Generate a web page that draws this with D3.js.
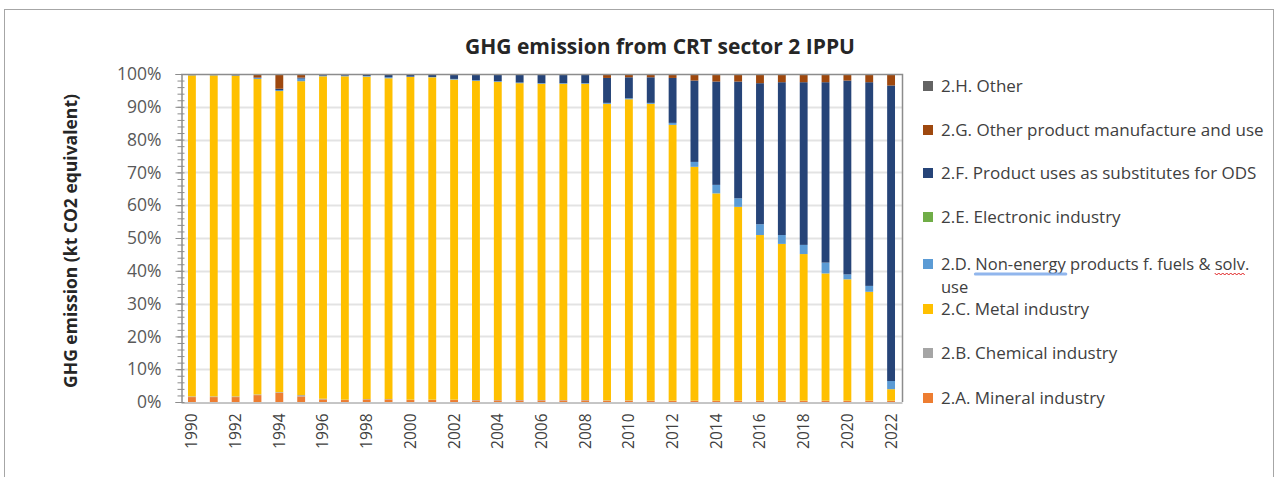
<!DOCTYPE html>
<html>
<head>
<script src="https://d3js.org/d3.v7.min.js"></script>
<style>
  body { margin: 0; background: #fff; }
  text { font-family: "Open Sans", Lato, sans-serif; }
</style>
</head>
<body>
<script>
var w = 1283, h = 477

var years = d3.range(1990, 2023)
// shares in % of total IPPU emission
var mineral      = [1.5,1.5,1.5,2.1,2.8,1.7,0.8,0.6,0.8,0.8,0.6,0.6,0.6,0.5,0.5,0.5,0.5,0.5,0.5,0.4,0.4,0.3,0.3,0.3,0.3,0.3,0.3,0.3,0.3,0.3,0.3,0.3,0.3]
var chemical     = [0.2,0.2,0.2,0.2,0.2,0.4,0.2,0.1,0.1,0.1,0.1,0.1,0.1,0.1,0.1,0.1,0.1,0.1,0.1,0.1,0.1,0.1,0.1,0.1,0.1,0.1,0.1,0.1,0.1,0.1,0.1,0.1,0.1]
var metal        = [97.9,97.9,97.8,96.2,91.8,95.7,98.3,98.6,98.3,97.8,98.4,98.3,97.6,97.3,97.0,96.6,96.4,96.4,96.4,90.4,91.8,90.5,84.1,71.3,63.2,59.1,50.5,47.8,44.7,38.8,37.0,33.2,3.5]
var nonEnergy    = [0.1,0.1,0.1,0.3,0.3,0.8,0.2,0.2,0.2,0.3,0.1,0.1,0.2,0.2,0.2,0.2,0.2,0.2,0.2,0.3,0.3,0.3,0.6,1.5,2.6,2.6,3.3,2.7,2.8,3.3,1.5,1.8,2.5]
var electronic   = [0,0,0,0,0,0,0,0,0,0,0,0,0,0,0,0,0,0,0,0,0,0,0,0,0,0,0,0,0,0,0,0,0]
var odsSubst     = [0,0,0.1,0.1,0.4,0.3,0.2,0.3,0.4,0.7,0.5,0.6,1.2,1.6,1.9,2.3,2.5,2.5,2.5,7.6,6.4,7.8,13.7,24.8,31.5,35.6,43.0,46.6,49.6,55.0,59.1,62.1,90.1]
var otherProduct = [0.3,0.3,0.3,1.1,4.5,1.1,0.3,0.2,0.2,0.3,0.3,0.3,0.3,0.3,0.3,0.3,0.3,0.3,0.3,1.2,1.0,1.0,1.2,2.0,2.3,2.3,2.8,2.5,2.5,2.5,2.0,2.5,3.5]
var other        = [0,0,0,0,0,0,0,0,0,0,0,0,0,0,0,0,0,0,0,0,0,0,0,0,0,0,0,0,0,0,0,0,0]

var keys = ['A','B','C','D','E','F','G','H']
var labels = {
  A: '2.A. Mineral industry',
  B: '2.B. Chemical industry',
  C: '2.C. Metal industry',
  D: '2.D. Non-energy products f. fuels & solv.',
  E: '2.E. Electronic industry',
  F: '2.F. Product uses as substitutes for ODS',
  G: '2.G. Other product manufacture and use',
  H: '2.H. Other'
}
var colors = {A:'#ED7D31', B:'#A5A5A5', C:'#FFC000', D:'#5B9BD5', E:'#70AD47', F:'#264478', G:'#9E480E', H:'#636363'}
var seriesVals = {A:mineral, B:chemical, C:metal, D:nonEnergy, E:electronic, F:odsSubst, G:otherProduct, H:other}

var table = years.map(function(y, i){
  var row = {year: y}
  keys.forEach(function(k){ row[k] = seriesVals[k][i] })
  return row
})

var stacked = d3.stack().keys(keys).offset(d3.stackOffsetExpand)(table)

var pLeft = 181, pRight = 902, pTop = 74, pBottom = 402

var x = d3.scaleBand().domain(years).range([pLeft, pRight]).paddingInner(0.64).paddingOuter(0.32)
var y = d3.scaleLinear().domain([0, 1]).range([pBottom, pTop])

var svg = d3.select('body').append('svg').attr('width', w).attr('height', h)

// outer chart frame
svg.append('rect').attr('x', 4.5).attr('y', 9.5).attr('width', 1269).attr('height', 480)
  .attr('fill', '#fff').attr('stroke', '#a6a6a6').attr('stroke-width', 1)

// gridlines
svg.append('g').selectAll('line').data(d3.range(1, 10)).join('line')
  .attr('x1', pLeft).attr('x2', pRight)
  .attr('y1', function(d){ return Math.round(y(d / 10)) + 0.5 })
  .attr('y2', function(d){ return Math.round(y(d / 10)) + 0.5 })
  .attr('stroke', '#e3e3e3').attr('stroke-width', 2)

// bars
svg.append('g').selectAll('g').data(stacked).join('g')
  .attr('fill', function(d){ return colors[d.key] })
  .selectAll('rect').data(function(d){ return d }).join('rect')
  .attr('x', function(d){ return x(d.data.year) })
  .attr('width', x.bandwidth())
  .attr('y', function(d){ return y(d[1]) })
  .attr('height', function(d){ return y(d[0]) - y(d[1]) })

// plot border (top / right)
svg.append('path').attr('d', 'M' + pLeft + ',' + (pTop + 0.5) + 'H' + (pRight + 0.5) + 'V' + pBottom)
  .attr('fill', 'none').attr('stroke', '#8c8c8c').attr('stroke-width', 1.5)

// y axis with minor ticks
var yMinor = svg.append('g').attr('transform', 'translate(' + (pLeft + 0.5) + ',0)')
  .call(d3.axisLeft(y).tickValues(d3.range(0, 51).map(function(i){ return i / 50 })).tickSize(5).tickFormat(''))
var yAxis = svg.append('g').attr('transform', 'translate(' + (pLeft + 0.5) + ',0)')
  .call(d3.axisLeft(y).tickValues(d3.range(0, 11).map(function(i){ return i / 10 })).tickSize(6).tickFormat(d3.format('.0%')))
;[yMinor, yAxis].forEach(function(g){
  g.select('.domain').attr('stroke', '#8c8c8c')
  g.selectAll('.tick line').attr('stroke', '#8c8c8c')
})
yMinor.selectAll('.tick line').attr('x2', 3).attr('x1', -4)
yAxis.selectAll('.tick text').attr('x', -20).attr('fill', '#595959').style('font-size', '17.5px')

// x axis
var xAxis = svg.append('g').attr('transform', 'translate(0,' + (pBottom + 0.5) + ')')
  .call(d3.axisBottom(x).tickValues(years.filter(function(d){ return d % 2 === 0 })).tickSize(0))
xAxis.select('.domain').attr('stroke', '#8c8c8c')
xAxis.selectAll('.tick text')
  .attr('transform', 'rotate(-90)').attr('x', -11).attr('y', 0).attr('dy', '0.35em')
  .attr('text-anchor', 'end').attr('fill', '#404040').style('font-size', '15.5px')

// title
svg.append('text').attr('x', 660).attr('y', 54).attr('text-anchor', 'middle')
  .style('font-size', '21px').style('font-weight', 'bold').attr('fill', '#262626')
  .text('GHG emission from CRT sector 2 IPPU')

// y label
svg.append('text').attr('transform', 'translate(77,241) rotate(-90)').attr('text-anchor', 'middle')
  .style('font-size', '17.5px').style('font-weight', 'bold').attr('fill', '#262626')
  .text('GHG emission (kt CO2 equivalent)')

// legend
var legendKeys = ['H','G','F','E','D','C','B','A']
var legendY = {H:86, G:130, F:173, E:217, D:264, C:309, B:353, A:398}
var legend = svg.append('g').selectAll('g').data(legendKeys).join('g')
  .attr('transform', function(k){ return 'translate(923,' + legendY[k] + ')' })
legend.append('rect').attr('x', 0).attr('y', -5).attr('width', 10).attr('height', 10)
  .attr('fill', function(k){ return colors[k] })
legend.append('text').attr('x', 18).attr('y', 0).attr('dy', '0.35em')
  .style('font-size', function(k){ return k === 'D' ? '16.5px' : '17px' }).attr('fill', '#404040')
  .text(function(k){ return labels[k] })

var dG = legend.filter(function(k){ return k === 'D' })
var dText = dG.select('text')
dG.append('text')
  .attr('x', 18).attr('y', 23).attr('dy', '0.35em')
  .style('font-size', '16.5px').attr('fill', '#404040').text('use')

// spell-check marks under "Non-energy" and "solv."
var node = dText.node()
var s = labels.D
var i1 = s.indexOf('Non-energy'), i2 = s.indexOf('solv.')
var x1 = 18 + node.getSubStringLength(0, i1), w1 = node.getSubStringLength(i1, 10)
var x2 = 18 + node.getSubStringLength(0, i2), w2 = node.getSubStringLength(i2, 4)
dG.append('line').attr('x1', x1).attr('x2', x1 + w1).attr('y1', 10).attr('y2', 10)
  .attr('stroke', '#7eaaea').attr('stroke-width', 3).attr('stroke-linecap', 'round').attr('opacity', 0.85)
var wave = d3.range(0, Math.floor(w2 / 2) + 1).map(function(j){ return [x2 + j * 2, 9 + (j % 2 ? 2 : 0)] })
dG.append('path').attr('d', d3.line()(wave)).attr('fill', 'none').attr('stroke', '#e02020').attr('stroke-width', 1)
</script>
</body>
</html>
